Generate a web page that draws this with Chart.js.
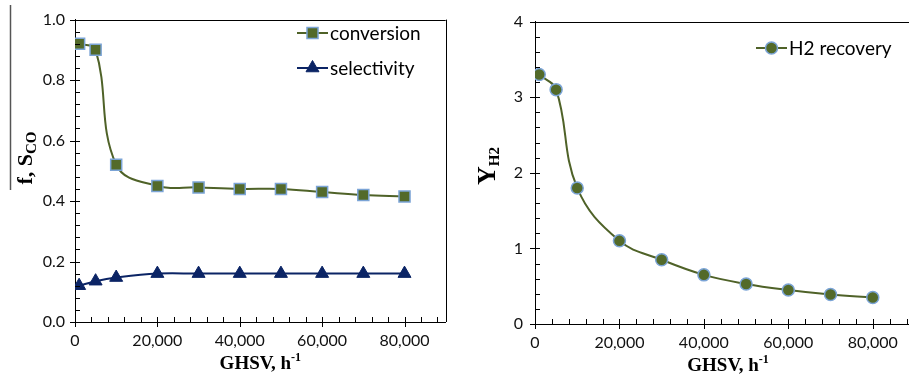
<!DOCTYPE html>
<html>
<head>
<meta charset="utf-8">
<script src="https://cdn.jsdelivr.net/npm/chart.js@4/dist/chart.umd.min.js"></script>
<style>
  html, body { margin: 0; padding: 0; background: #fff; overflow: hidden; }
  #wrap { position: relative; width: 909px; height: 384px; overflow: hidden; }
  #left { position: absolute; left: 0; top: 0; }
  #right { position: absolute; left: 455px; top: 0; }
</style>
</head>
<body>
<div id="wrap">
  <canvas id="left" width="455" height="384"></canvas>
  <canvas id="right" width="470" height="384"></canvas>
</div>
<script>
// Gas hourly space velocity (h^-1) at each measurement
const ghsv = [1000, 5000, 10000, 20000, 30000, 40000, 50000, 60000, 70000, 80000];
// CO conversion and selectivity (fractions)
const conversion = [0.92, 0.90, 0.52, 0.45, 0.445, 0.44, 0.44, 0.43, 0.42, 0.415];
const selectivity = [0.12, 0.135, 0.147, 0.16, 0.16, 0.16, 0.16, 0.16, 0.16, 0.16];
// Hydrogen recovery
const h2Recovery = [3.30, 3.10, 1.80, 1.10, 0.85, 0.65, 0.53, 0.45, 0.39, 0.35];

// Axis tick labels
const ghsvTicks = [0, 20000, 40000, 60000, 80000];
const fractionTicks = [0, 0.2, 0.4, 0.6, 0.8, 1.0];
const recoveryTicks = [0, 1, 2, 3, 4];

const seriesNames = ['conversion', 'selectivity', 'H2 recovery'];

const OLIVE_LINE = '#4f6228';
const OLIVE_FILL = '#536a2a';
const MARKER_EDGE = '#7ba4d6';
const NAVY = '#0b2465';
const SERIF = '"Liberation Serif", "DejaVu Serif", serif';
const SANS = 'Lato, "Open Sans", sans-serif';

function points(values) {
  return ghsv.map((x, i) => ({ x, y: values[i] }));
}

function withCommas(v) {
  return String(Math.round(v)).replace(/\B(?=(\d{3})+(?!\d))/g, ',');
}

function xAxis(height, padding) {
  return {
    type: 'linear', min: 0, max: 90000,
    grid: { display: false, drawTicks: false },
    border: { display: true, color: '#000', width: 1 },
    ticks: {
      color: '#111', font: { family: SANS, size: 16 }, padding,
      autoSkip: false, maxRotation: 0, callback: v => withCommas(v)
    },
    afterBuildTicks: s => { s.ticks = ghsvTicks.map(value => ({ value })); },
    afterFit: s => { s.height = height; }
  };
}

function yAxis(values, max, width, padding, fmt) {
  return {
    type: 'linear', min: 0, max,
    grid: { display: false, drawTicks: false },
    border: { display: true, color: '#000', width: 1 },
    ticks: {
      color: '#111', font: { family: SANS, size: 16 }, padding,
      autoSkip: false, callback: v => fmt(v)
    },
    afterBuildTicks: s => { s.ticks = values.map(value => ({ value })); },
    afterFit: s => { s.width = width; }
  };
}

// Draws a run of text pieces (sub/superscripts) centred on (cx, cy)
function drawRich(ctx, parts, cx, cy, rotated) {
  ctx.save();
  ctx.translate(cx, cy);
  if (rotated) ctx.rotate(-Math.PI / 2);
  let total = 0;
  parts.forEach(p => { ctx.font = p.font; total += ctx.measureText(p.text).width; });
  let x = -total / 2;
  ctx.fillStyle = '#000';
  ctx.textBaseline = 'alphabetic';
  ctx.textAlign = 'left';
  parts.forEach(p => {
    ctx.font = p.font;
    ctx.fillText(p.text, x, p.dy || 0);
    x += ctx.measureText(p.text).width;
  });
  ctx.restore();
}

function drawMarker(ctx, ds, x, y) {
  const r = ds.pointRadius;
  ctx.save();
  ctx.fillStyle = ds.pointBackgroundColor;
  ctx.strokeStyle = ds.pointBorderColor;
  ctx.lineWidth = ds.pointBorderWidth;
  ctx.beginPath();
  if (ds.pointStyle === 'rect') {
    const s = r * Math.SQRT1_2;
    ctx.rect(x - s, y - s, 2 * s, 2 * s);
  } else if (ds.pointStyle === 'triangle') {
    ctx.moveTo(x, y - r);
    ctx.lineTo(x + r * Math.sin(Math.PI / 3), y + r * 0.5);
    ctx.lineTo(x - r * Math.sin(Math.PI / 3), y + r * 0.5);
    ctx.closePath();
  } else {
    ctx.arc(x, y, r, 0, Math.PI * 2);
  }
  ctx.fill();
  ctx.stroke();
  ctx.restore();
}

// Tick marks (major crossing the axis, minor inside), frame, titles and legend
const decorations = {
  id: 'decorations',
  afterDraw(chart, args, o) {
    const ctx = chart.ctx;
    const { left, right, top, bottom } = chart.chartArea;
    const xs = chart.scales.x, ys = chart.scales.y;
    const crisp = v => Math.round(v) + 0.5;
    ctx.save();
    ctx.strokeStyle = '#000';
    ctx.lineWidth = 1;
    ctx.beginPath();
    // frame
    ctx.moveTo(left, crisp(top)); ctx.lineTo(right, crisp(top));
    if (o.rightFrame) { ctx.moveTo(crisp(right), top); ctx.lineTo(crisp(right), bottom); }
    // x ticks
    const xMajor = xs.ticks.map(t => t.value);
    for (let i = 0; ; i++) {
      const v = xs.min + i * o.xMinor;
      if (v > xs.max + 1e-9) break;
      const px = crisp(xs.getPixelForValue(v));
      const isMajor = xMajor.some(m => Math.abs(m - v) < 1e-6);
      ctx.moveTo(px, bottom - 5);
      ctx.lineTo(px, isMajor ? bottom + 5 : bottom);
    }
    // y ticks
    const yMajor = ys.ticks.map(t => t.value);
    for (let i = 0; ; i++) {
      const v = ys.min + i * o.yMinor;
      if (v > ys.max + 1e-9) break;
      const py = crisp(ys.getPixelForValue(v));
      const isMajor = yMajor.some(m => Math.abs(m - v) < 1e-6);
      ctx.moveTo(isMajor ? left - 5 : left, py);
      ctx.lineTo(left + 5, py);
    }
    ctx.stroke();

    if (o.sideRule) {
      ctx.strokeStyle = '#555';
      ctx.lineWidth = 1.5;
      ctx.beginPath();
      ctx.moveTo(o.sideRule.x, o.sideRule.y0);
      ctx.lineTo(o.sideRule.x, o.sideRule.y1);
      ctx.stroke();
    }
    ctx.restore();

    // axis titles
    drawRich(ctx, o.xTitle, (left + right) / 2 + (o.xTitleShift || 0), o.xTitleY, false);
    drawRich(ctx, o.yTitle, o.yTitleX, o.yTitleY, true);

    // legend
    chart.data.datasets.forEach((ds, i) => {
      const item = o.legend[i];
      ctx.save();
      ctx.strokeStyle = ds.borderColor;
      ctx.lineWidth = ds.borderWidth;
      ctx.beginPath();
      ctx.moveTo(item.x, item.y);
      ctx.lineTo(item.x + 31, item.y);
      ctx.stroke();
      ctx.restore();
      drawMarker(ctx, ds, item.x + 15.5, item.y);
      ctx.save();
      ctx.fillStyle = '#000';
      ctx.font = '19px ' + SANS;
      ctx.textBaseline = 'middle';
      ctx.textAlign = 'left';
      ctx.fillText(ds.label, item.x + 33, item.y + 1);
      ctx.restore();
    });
  }
};

const common = {
  responsive: false,
  animation: false,
  devicePixelRatio: 1,
  events: [],
  plugins: { legend: { display: false }, tooltip: { enabled: false } }
};

function series(label, values, color, fill, style, radius) {
  return {
    label, data: points(values),
    borderColor: color, borderWidth: 2, tension: 0.4, fill: false,
    pointStyle: style, pointRadius: radius,
    pointBackgroundColor: fill, pointBorderColor: MARKER_EDGE, pointBorderWidth: 1.5
  };
}

new Chart(document.getElementById('left'), {
  type: 'line',
  data: {
    datasets: [
      series(seriesNames[0], conversion, OLIVE_LINE, OLIVE_FILL, 'rect', 7.8),
      Object.assign(series(seriesNames[1], selectivity, NAVY, NAVY, 'triangle', 7.5),
                    { pointBorderColor: NAVY, pointBorderWidth: 1 })
    ]
  },
  options: Object.assign({}, common, {
    layout: { padding: { left: 0, top: 12, right: 8, bottom: 0 } },
    scales: {
      x: xAxis(62, 9),
      y: yAxis(fractionTicks, 1.0, 75, 10, v => v.toFixed(1))
    },
    plugins: Object.assign({}, common.plugins, {
      decorations: {
        rightFrame: true, xMinor: 4000, yMinor: 0.04,
        sideRule: { x: 10.5, y0: 5, y1: 190 },
        xTitle: [
          { text: 'GHSV, h', font: 'bold 19px ' + SERIF },
          { text: '-1', font: 'bold 12px ' + SERIF, dy: -8 }
        ],
        xTitleY: 369,
        yTitle: [
          { text: 'f, S', font: 'bold 22px ' + SERIF },
          { text: 'CO', font: 'bold 15px ' + SERIF, dy: 4 }
        ],
        yTitleX: 32, yTitleY: 158,
        legend: [{ x: 297, y: 33 }, { x: 297, y: 68 }]
      }
    })
  }),
  plugins: [decorations]
});

new Chart(document.getElementById('right'), {
  type: 'line',
  data: {
    datasets: [series(seriesNames[2], h2Recovery, OLIVE_LINE, OLIVE_FILL, 'circle', 6)]
  },
  options: Object.assign({}, common, {
    layout: { padding: { left: 0, top: 13, right: 10, bottom: 0 } },
    scales: {
      x: xAxis(60, 9),
      y: yAxis(recoveryTicks, 4, 80, 12, v => String(Math.round(v)))
    },
    plugins: Object.assign({}, common.plugins, {
      decorations: {
        rightFrame: true, xMinor: 4000, yMinor: 0.2,
        xTitle: [
          { text: 'GHSV, h', font: 'bold 19px ' + SERIF },
          { text: '-1', font: 'bold 12px ' + SERIF, dy: -8 }
        ],
        xTitleY: 371, xTitleShift: 3,
        yTitle: [
          { text: 'Y', font: 'bold 26px ' + SERIF },
          { text: 'H2', font: 'bold 15px ' + SERIF, dy: 4 }
        ],
        yTitleX: 40, yTitleY: 166,
        legend: [{ x: 301, y: 48 }]
      }
    })
  }),
  plugins: [decorations]
});
</script>
</body>
</html>
